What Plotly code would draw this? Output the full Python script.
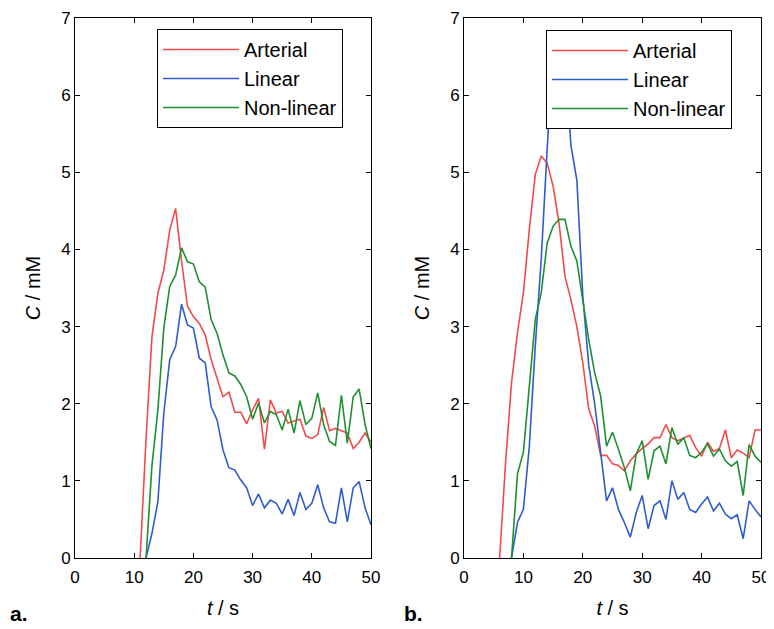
import plotly.graph_objects as go

# ---------------- data ----------------
t_a = list(range(11, 51))
arterial_a = [0.0, 1.55, 2.87, 3.43, 3.73, 4.25, 4.53, 3.85, 3.26, 3.13, 3.04, 2.89, 2.57, 2.33,
              2.09, 2.15, 1.89, 1.89, 1.74, 1.92, 2.07, 1.41, 2.05, 1.88, 1.90, 1.75, 1.78, 1.80,
              1.58, 1.55, 1.60, 1.95, 1.65, 1.68, 1.65, 1.62, 1.42, 1.50, 1.62, 1.50]
t_b_lin = list(range(12, 51))
linear_a = [0.0, 0.32, 0.73, 1.88, 2.57, 2.74, 3.29, 3.02, 2.98, 2.59, 2.53, 1.96, 1.79, 1.40,
            1.17, 1.14, 1.01, 0.91, 0.68, 0.83, 0.65, 0.75, 0.71, 0.57, 0.76, 0.55, 0.85, 0.63,
            0.71, 0.95, 0.65, 0.47, 0.45, 0.91, 0.47, 0.91, 0.99, 0.65, 0.43]
nonlinear_a = [0.0, 1.20, 1.92, 2.98, 3.52, 3.67, 4.02, 3.84, 3.81, 3.58, 3.51, 3.09, 2.91, 2.63,
               2.40, 2.36, 2.25, 2.09, 1.80, 2.01, 1.75, 1.90, 1.86, 1.66, 1.93, 1.62, 2.04, 1.73,
               1.81, 2.14, 1.73, 1.51, 1.46, 2.11, 1.49, 2.09, 2.19, 1.73, 1.42]

t_b_art = list(range(6, 51))
arterial_b = [0.0, 1.24, 2.27, 2.92, 3.44, 4.26, 4.97, 5.21, 5.12, 4.82, 4.34, 3.65, 3.35, 3.00,
              2.53, 1.93, 1.71, 1.33, 1.33, 1.22, 1.20, 1.13, 1.26, 1.35, 1.42, 1.48, 1.56, 1.56,
              1.73, 1.56, 1.52, 1.56, 1.59, 1.43, 1.32, 1.50, 1.38, 1.42, 1.66, 1.30, 1.40, 1.36,
              1.30, 1.66, 1.66]
t_b_mod = list(range(8, 51))
linear_b = [0.0, 0.46, 0.63, 1.45, 2.75, 3.87, 5.30, 6.60, 6.80, 6.50, 5.35, 4.90, 3.40, 2.50,
            2.00, 1.37, 0.74, 0.91, 0.63, 0.46, 0.27, 0.59, 0.81, 0.38, 0.68, 0.74, 0.50, 1.00,
            0.76, 0.85, 0.63, 0.59, 0.70, 0.79, 0.61, 0.71, 0.57, 0.51, 0.56, 0.25, 0.74, 0.63,
            0.53]
nonlinear_b = [0.0, 1.09, 1.37, 2.23, 3.09, 3.44, 4.08, 4.30, 4.39, 4.39, 4.04, 3.85, 3.35, 2.83,
               2.40, 2.10, 1.45, 1.63, 1.41, 1.17, 0.87, 1.35, 1.52, 1.02, 1.39, 1.45, 1.22, 1.69,
               1.47, 1.56, 1.33, 1.30, 1.37, 1.48, 1.32, 1.41, 1.26, 1.19, 1.25, 0.81, 1.47, 1.32,
               1.24]

series_names = ["Arterial", "Linear", "Non-linear"]
colors = ["#f24a4a", "#2f5ccc", "#1f9032"]
x_ticks = [0, 10, 20, 30, 40, 50]
y_ticks = [0, 1, 2, 3, 4, 5, 6, 7]

FONT = "Liberation Sans, Arial, sans-serif"

fig = go.Figure()

panel_a = [(t_a, arterial_a), (t_b_lin, linear_a), (t_b_lin, nonlinear_a)]
panel_b = [(t_b_art, arterial_b), (t_b_mod, linear_b), (t_b_mod, nonlinear_b)]

for i, (x, y) in enumerate(panel_a):
    fig.add_trace(go.Scatter(x=x, y=y, mode="lines", name=series_names[i],
                             line=dict(color=colors[i], width=1.6),
                             xaxis="x", yaxis="y", legend="legend"))
for i, (x, y) in enumerate(panel_b):
    fig.add_trace(go.Scatter(x=x, y=y, mode="lines", name=series_names[i],
                             line=dict(color=colors[i], width=1.6),
                             xaxis="x2", yaxis="y2", legend="legend2"))

# the page body adds an 8 px offset; the figure is sized to fill the rest of the window
OFF = 8
W, H = 774 - OFF, 629 - OFF


def px(X):
    return (X - OFF) / W


def py(Y):
    return 1 - (Y - OFF) / H


yd = [py(558), py(18)]

axis_common = dict(showline=True, linecolor="black", linewidth=1, mirror="allticks",
                   ticks="inside", ticklen=5, tickcolor="black", showgrid=False,
                   zeroline=False, automargin=False,
                   tickfont=dict(family=FONT, size=17, color="black"))

legend_common = dict(xanchor="left", yanchor="top",
                     bordercolor="black", borderwidth=1, bgcolor="white",
                     font=dict(family=FONT, size=20, color="black"), itemwidth=76,
                     tracegroupgap=0)

fig.update_layout(
    width=W, height=H,
    margin=dict(l=0, r=0, t=0, b=0),
    paper_bgcolor="white", plot_bgcolor="white",
    font=dict(family=FONT, size=17, color="black"),
    xaxis=dict(domain=[px(75), px(371)], range=[0, 50], tickvals=x_ticks, ticklabelstandoff=4,
               anchor="y", title=dict(text="<i>t</i> / s", standoff=14), **axis_common),
    yaxis=dict(domain=yd, range=[0, 7], tickvals=y_ticks, anchor="x",
               title=dict(text="<i>C</i> / mM", standoff=15), **axis_common),
    xaxis2=dict(domain=[px(464), px(761)], range=[0, 50], tickvals=x_ticks, ticklabelstandoff=4,
                anchor="y2", title=dict(text="<i>t</i> / s", standoff=14), **axis_common),
    yaxis2=dict(domain=yd, range=[0, 7], tickvals=y_ticks, anchor="x2",
                title=dict(text="<i>C</i> / mM", standoff=15), **axis_common),
    legend=dict(x=px(157), y=py(29), **legend_common),
    legend2=dict(x=px(546), y=py(30), **legend_common),
    annotations=[
        dict(text="<b>a.</b>", x=0, y=0.004, xref="paper", yref="paper",
             xanchor="left", yanchor="bottom", showarrow=False,
             font=dict(family=FONT, size=21, color="black")),
        dict(text="<b>b.</b>", x=px(402), y=0.004, xref="paper", yref="paper",
             xanchor="left", yanchor="bottom", showarrow=False,
             font=dict(family=FONT, size=21, color="black")),
    ],
)

fig.write_html("out.html")
